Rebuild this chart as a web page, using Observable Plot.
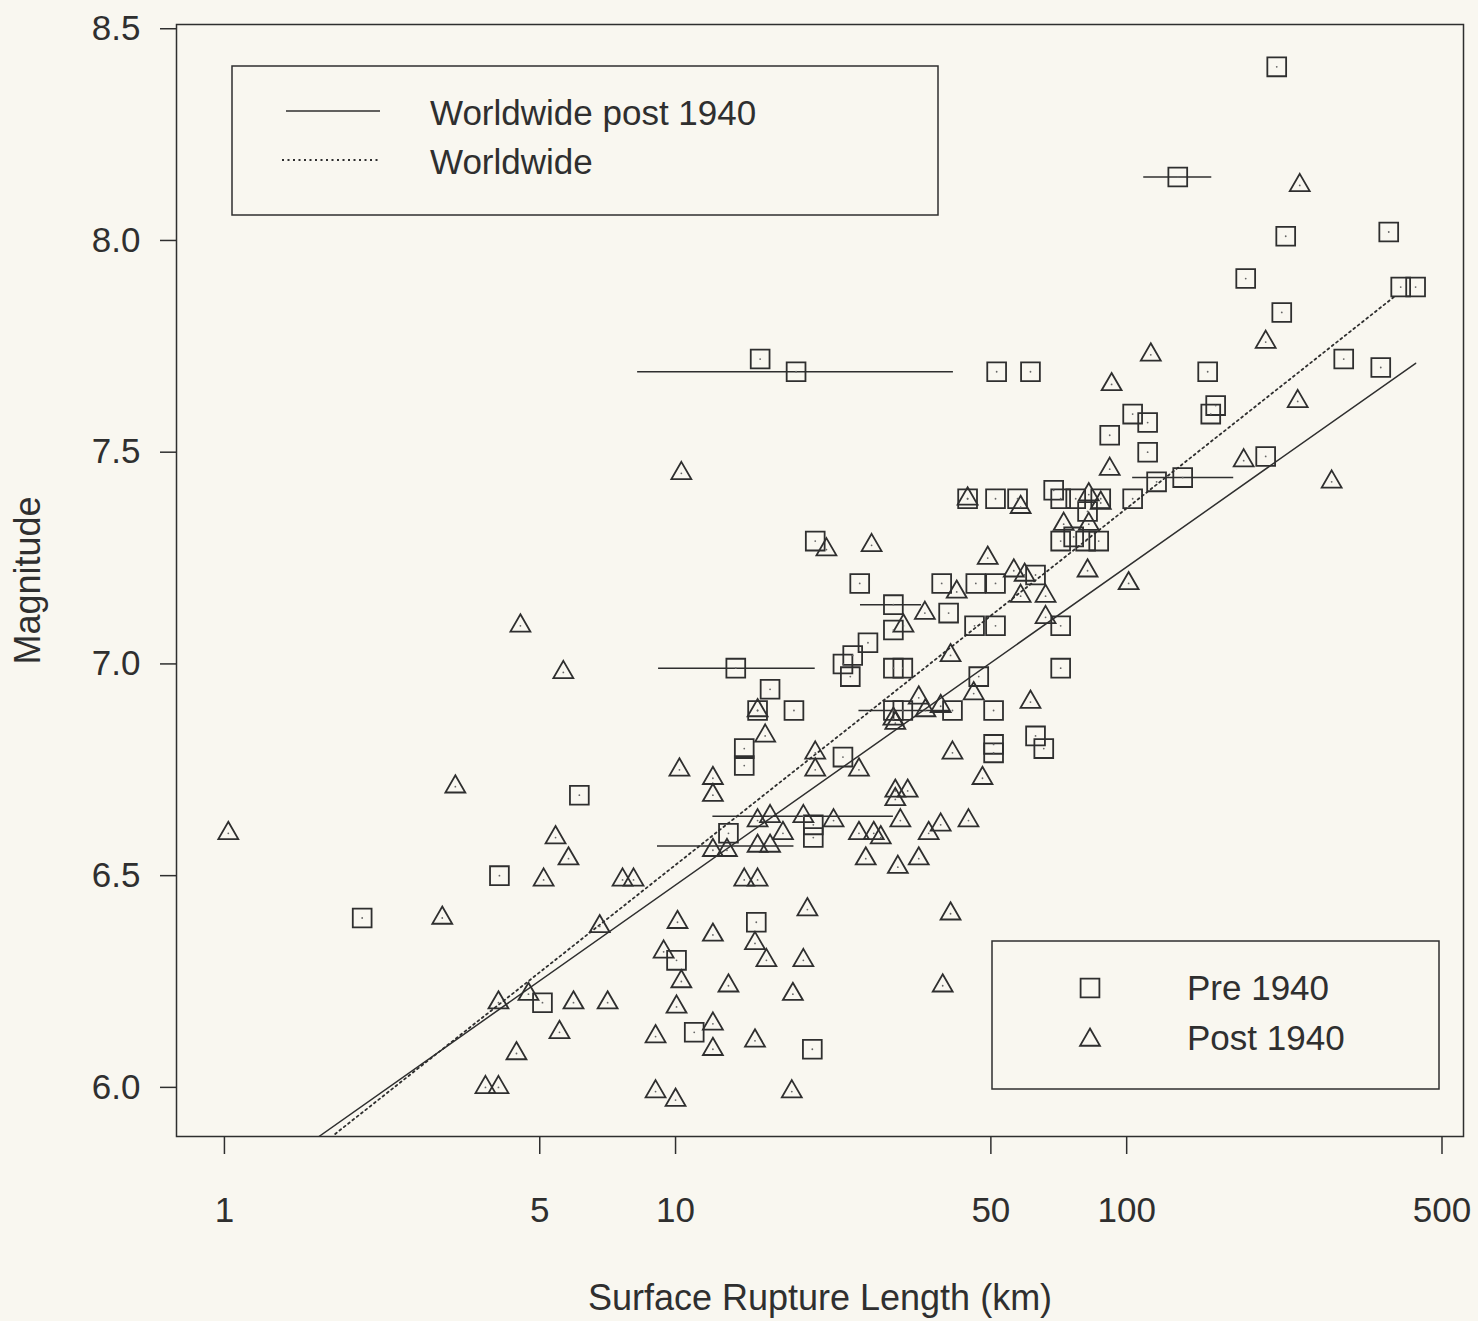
<!DOCTYPE html>
<html><head><meta charset="utf-8">
<script src="https://cdn.jsdelivr.net/npm/d3@7"></script>
<script src="https://cdn.jsdelivr.net/npm/@observablehq/plot@0.6"></script>
<style>
html,body{margin:0;padding:0;background:#f9f7f0;overflow:hidden}
#chart svg{display:block}
#chart svg g[aria-label$="tick"] path{stroke-width:1.5}
</style></head><body><div id="chart"></div>
<script>
// Pre 1940 events (squares): surface rupture length (km) and magnitude
const preL = [215.1,129.8,225.2,381,183.6,220.7,405,437,302.8,365.8,151.2,15.4,18.5,51.5,61.2,157.5,153.6,103.1,111.3,91.7,111.3,203.3,133.1,116.5,103.1,44.4,51.2,57.3,68.9,71.4,77.1,87.6,81.9,71.4,76.3,81.1,86.7,20.4,62.8,25.6,38.9,46.3,51.2,30.4,40.3,71.4,30.4,46.0,51.2,26.7,24.7,13.6,23.5,24.4,30.4,31.9,71.4,47.0,16.2,15.2,18.3,30.4,31.9,41.1,50.7,14.2,14.2,23.5,50.7,50.7,62.8,65.5,6.12,13.1,20.2,20.2,4.07,2.02,15.1,10.05,5.07,11.0,20.1];
const preM = [8.41,8.15,8.01,8.02,7.91,7.83,7.89,7.89,7.72,7.70,7.69,7.72,7.69,7.69,7.69,7.61,7.59,7.59,7.57,7.54,7.50,7.49,7.44,7.43,7.39,7.39,7.39,7.39,7.41,7.39,7.39,7.39,7.36,7.29,7.30,7.29,7.29,7.29,7.21,7.19,7.19,7.19,7.19,7.14,7.12,7.09,7.08,7.09,7.09,7.05,7.02,6.99,7.00,6.97,6.99,6.99,6.99,6.97,6.94,6.89,6.89,6.89,6.89,6.89,6.89,6.80,6.76,6.78,6.81,6.79,6.83,6.80,6.69,6.60,6.62,6.59,6.50,6.40,6.39,6.30,6.20,6.13,6.09];
// Post 1940 events (triangles)
const postL = [241.9,203.3,113.1,92.6,239.4,181.7,91.7,284.7,10.3,44.4,58.2,82.4,87.6,72.5,82.4,21.6,27.2,49.2,56.2,59.4,81.9,101.0,42.0,58.2,66.1,66.1,35.7,32.0,4.53,40.7,5.64,45.8,61.2,15.2,34.6,35.8,38.7,30.4,30.7,15.8,41.1,20.4,20.4,25.5,10.2,12.1,12.1,47.9,30.7,32.7,30.7,15.2,16.2,17.3,19.2,22.4,25.5,27.5,28.5,31.5,36.4,38.7,44.6,12.1,13.0,15.2,16.2,26.4,31.1,34.6,7.63,8.07,14.2,15.2,3.25,1.02,5.42,5.79,5.10,3.04,6.79,19.6,40.7,10.1,12.1,15.0,15.9,19.2,9.41,10.3,13.1,18.2,39.1,7.07,10.05,4.05,4.72,5.94,5.53,4.44,3.79,4.05,12.1,9.03,12.1,15.0,9.03,10.0,18.1];
const postM = [8.13,7.76,7.73,7.66,7.62,7.48,7.46,7.43,7.45,7.39,7.37,7.40,7.38,7.33,7.33,7.27,7.28,7.25,7.22,7.21,7.22,7.19,7.17,7.16,7.16,7.11,7.12,7.09,7.09,7.02,6.98,6.93,6.91,6.89,6.92,6.89,6.90,6.87,6.86,6.83,6.79,6.79,6.75,6.75,6.75,6.73,6.69,6.73,6.70,6.70,6.68,6.63,6.64,6.60,6.64,6.63,6.60,6.60,6.59,6.63,6.60,6.62,6.63,6.56,6.56,6.57,6.57,6.54,6.52,6.54,6.49,6.49,6.49,6.49,6.71,6.60,6.59,6.54,6.49,6.40,6.38,6.42,6.41,6.39,6.36,6.34,6.30,6.30,6.32,6.25,6.24,6.22,6.24,6.20,6.19,6.20,6.22,6.20,6.13,6.08,6.00,6.00,6.15,6.12,6.09,6.11,5.99,5.97,5.99];
// Rupture length ranges (horizontal bars)
const barM  = [8.15,7.69,7.44,7.14,6.99,6.89,6.64,6.57];
const barL1 = [109.1,8.24,103.1,25.7,9.17,25.5,12.1,9.12];
const barL2 = [154.4,41.3,172.7,35.1,20.4,40.7,30.4,18.3];
// Regression lines (end points)
const fitPostL = [1.62,437],  fitPostM = [5.884,7.71];   // Worldwide post 1940 (solid)
const fitAllL  = [1.76,395],  fitAllM  = [5.89,7.87];    // Worldwide (dotted)
const xTicks = [1,5,10,50,100,500];
const yTicks = [6,6.5,7,7.5,8,8.5];

const pre = preL.map((L,i)=>({L, M:preM[i]}));
const post = postL.map((L,i)=>({L, M:postM[i]}));
const bars = barM.map((M,i)=>({M, L1:barL1[i], L2:barL2[i]}));
const fitPost = fitPostL.map((L,i)=>({L, M:fitPostM[i]}));
const fitAll = fitAllL.map((L,i)=>({L, M:fitAllM[i]}));

const ink = "#2f2f2f";
const font = "'Liberation Sans', Arial, Helvetica, sans-serif";
const rSq = 10.6, rTri = 7.4;
const frameH = 1321 - 24 - 185;

const plot = Plot.plot({
  width:1478, height:1321,
  marginLeft:176, marginRight:15, marginTop:24, marginBottom:185,
  style:{background:"transparent", fontFamily:font, fontSize:"35px", color:ink},
  x:{type:"log", domain:[0.783,558], axis:null},
  y:{domain:[5.884,8.51], ticks:yTicks, tickFormat:d=>d.toFixed(1), tickSize:16, tickPadding:20, label:null},
  marks:[
    Plot.frame({stroke:ink, strokeWidth:1.5}),
    // x axis ticks and labels
    Plot.ruleX(xTicks, {x:d=>d, insetTop:frameH, insetBottom:-18, stroke:ink, strokeWidth:1.5}),
    Plot.text(xTicks, {x:d=>d, frameAnchor:"bottom", lineAnchor:"top", textAnchor:"middle", dy:61, text:d=>String(d), fill:ink, fontSize:35}),
    Plot.line(fitPost, {x:"L", y:"M", stroke:ink, strokeWidth:1.5, clip:true}),
    Plot.line(fitAll, {x:"L", y:"M", stroke:ink, strokeWidth:1.8, strokeDasharray:"2,3.5", clip:true}),
    Plot.ruleY(bars, {y:"M", x1:"L1", x2:"L2", stroke:ink, strokeWidth:1.5}),
    Plot.dot(pre, {x:"L", y:"M", symbol:"square", r:rSq, stroke:ink, strokeWidth:1.8, fill:"none"}),
    Plot.dot(post, {x:"L", y:"M", symbol:"triangle", r:rTri, stroke:ink, strokeWidth:1.8, fill:"none"}),
    Plot.dot(pre.concat(post), {x:"L", y:"M", r:0.9, fill:"#666", stroke:null}),
    Plot.text(["Magnitude"], {frameAnchor:"left", textAnchor:"middle", lineAnchor:"middle", dx:-148, rotate:-90, text:d=>d, fontSize:36, fill:ink}),
    Plot.text(["Surface Rupture Length (km)"], {frameAnchor:"bottom", textAnchor:"middle", lineAnchor:"middle", dy:162, text:d=>d, fontSize:36, fill:ink})
  ]
});
document.getElementById("chart").appendChild(plot);

// Legends
const svg = d3.select(plot);
const g1 = svg.append("g").attr("font-family", font).attr("font-size", 35).attr("text-anchor","start");
g1.append("rect").attr("x",232).attr("y",66).attr("width",706).attr("height",149)
  .attr("fill","none").attr("stroke",ink).attr("stroke-width",1.5);
g1.append("line").attr("x1",286).attr("x2",380).attr("y1",111).attr("y2",111).attr("stroke",ink).attr("stroke-width",1.5);
g1.append("line").attr("x1",282).attr("x2",380).attr("y1",160).attr("y2",160).attr("stroke",ink).attr("stroke-width",1.8).attr("stroke-dasharray","2,3.5");
g1.append("text").attr("x",430).attr("y",125).attr("fill",ink).text("Worldwide post 1940");
g1.append("text").attr("x",430).attr("y",174).attr("fill",ink).text("Worldwide");

const g2 = svg.append("g").attr("font-family", font).attr("font-size", 35).attr("text-anchor","start");
g2.append("rect").attr("x",992).attr("y",941).attr("width",447).attr("height",148)
  .attr("fill","none").attr("stroke",ink).attr("stroke-width",1.5);
g2.append("path").attr("transform","translate(1090,988)")
  .attr("d", d3.symbol(d3.symbolSquare, Math.PI*rSq*rSq)()).attr("fill","none").attr("stroke",ink).attr("stroke-width",1.8);
g2.append("path").attr("transform","translate(1090,1040)")
  .attr("d", d3.symbol(d3.symbolTriangle, Math.PI*rTri*rTri)()).attr("fill","none").attr("stroke",ink).attr("stroke-width",1.8);
g2.append("text").attr("x",1187).attr("y",1000).attr("fill",ink).text("Pre 1940");
g2.append("text").attr("x",1187).attr("y",1050).attr("fill",ink).text("Post 1940");
</script></body></html>
